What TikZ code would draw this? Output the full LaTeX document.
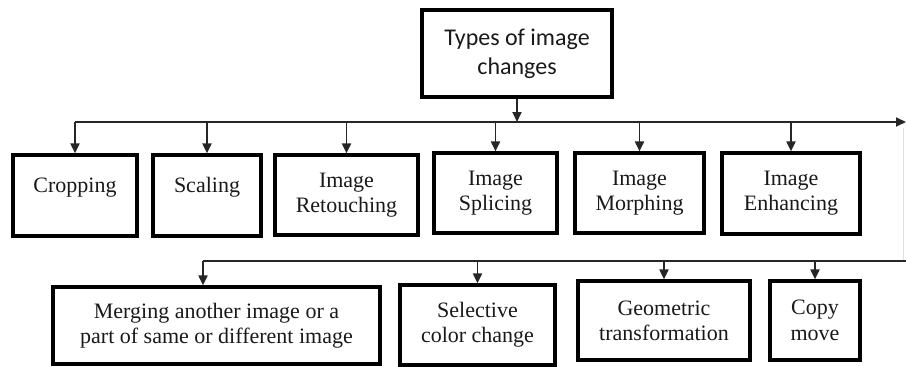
\documentclass[tikz,border=0pt]{standalone}
\usepackage{fontspec}
\setmainfont{Liberation Serif}
\newfontfamily\titlefont{Carlito}
\usetikzlibrary{arrows.meta}
\begin{document}
\begin{tikzpicture}[x=1pt,y=-1pt,
  box/.style={draw=black, line width=3.2pt, align=center, inner sep=0pt,
    font=\fontsize{22}{25}\selectfont, text=black!90},
  conn/.style={line width=1.9pt, draw=black!85},
  arr/.style={conn, -{Triangle[length=10pt,width=9pt]}},
  faint/.style={line width=1pt, draw=black!12},
]
\useasboundingbox (0,0) rectangle (906,367);

% root
\node[box, font=\titlefont\fontsize{24}{29}\selectfont, minimum width=190pt, minimum height=87pt]
  (root) at (517,53.5) {Types of image\\changes};

% row 1
\node[box, minimum width=124pt, minimum height=81pt] (crop) at (75,195.5) {\raisebox{8pt}[\height][\depth]{Cropping}};
\node[box, minimum width=108pt, minimum height=81pt] (scale) at (207,195.5) {\raisebox{8pt}[\height][\depth]{Scaling}};
\node[box, minimum width=143pt, minimum height=80pt] (retouch) at (346.5,195) {Image\\Retouching};
\node[box, minimum width=123pt, minimum height=80pt] (splice) at (495.5,193) {Image\\Splicing};
\node[box, minimum width=129pt, minimum height=80pt] (morph) at (639.5,193) {Image\\Morphing};
\node[box, minimum width=138pt, minimum height=81pt] (enhance) at (791,193.5) {Image\\Enhancing};

% row 2
\node[box, minimum width=327pt, minimum height=77pt] (merge) at (216.5,325.5) {Merging another image or a\\part of same or different image};
\node[box, minimum width=155pt, minimum height=80pt] (select) at (477.5,325) {Selective\\color change};
\node[box, minimum width=172pt, minimum height=79pt] (geom) at (664,320.5) {Geometric\\transformation};
\node[box, minimum width=90pt, minimum height=79pt] (copy) at (815,320.5) {Copy\\[1pt]move};

% top bus
\coordinate (hub) at (517,122);
\coordinate (lineR) at (906,122);
\draw[arr] (root.south) -- (hub);
\draw[arr] (crop.north |- hub) -- (lineR);
\foreach \b in {crop,scale,retouch,splice,morph,enhance}
  \draw[arr] (\b.north |- hub) -- (\b.north);

% second bus
\coordinate (hub2) at (906,261);
\coordinate (m2) at (203,261);
\draw[faint] (903,128) -- (903,261);
\draw[conn] (hub2) -- (m2);
\draw[arr] (m2) -- (m2 |- merge.north);
\draw[arr] (select.north |- hub2) -- (select.north);
\draw[arr] (geom.north |- hub2) -- (geom.north);
\draw[arr] (copy.north |- hub2) -- (copy.north);
\end{tikzpicture}
\end{document}
